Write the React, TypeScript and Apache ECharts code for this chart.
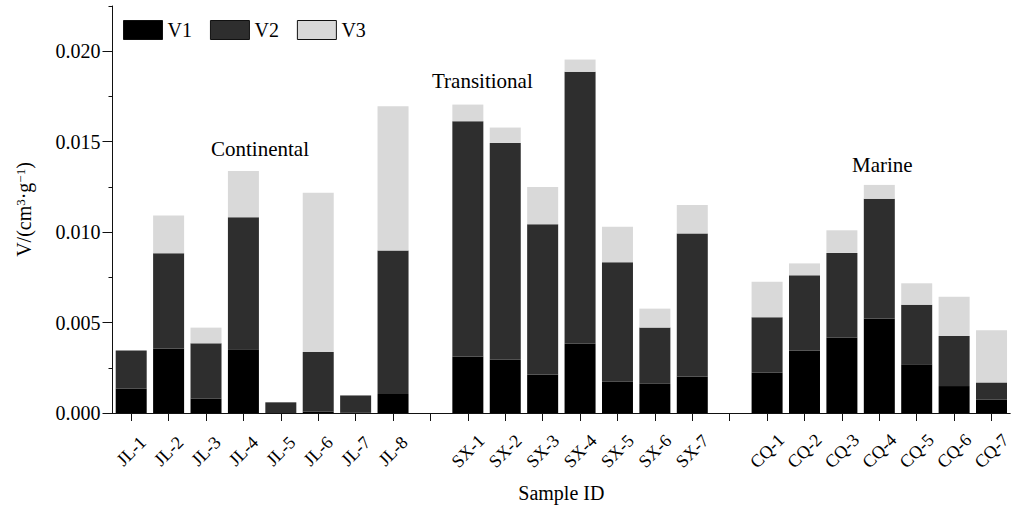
import React, { useEffect, useRef } from "react";
import * as echarts from "echarts";

// ---- data (units: cm^3/g) ----
const jlNames = ["JL-1", "JL-2", "JL-3", "JL-4", "JL-5", "JL-6", "JL-7", "JL-8"];
const jlV1 = [0.00134, 0.00357, 0.00079, 0.00352, 0.0, 0.00007, 0.00001, 0.00105];
const jlV2 = [0.00212, 0.00526, 0.00306, 0.0073, 0.00059, 0.0033, 0.00096, 0.00794];
const jlV3 = [0.0, 0.00209, 0.00087, 0.00256, 0.0, 0.0088, 0.0, 0.00797];

const sxNames = ["SX-1", "SX-2", "SX-3", "SX-4", "SX-5", "SX-6", "SX-7"];
const sxV1 = [0.00313, 0.00295, 0.00213, 0.00383, 0.00173, 0.00164, 0.00202];
const sxV2 = [0.013, 0.01198, 0.0083, 0.01503, 0.0066, 0.00308, 0.00791];
const sxV3 = [0.00092, 0.00085, 0.00207, 0.00068, 0.00197, 0.00105, 0.00157];

const cqNames = ["CQ-1", "CQ-2", "CQ-3", "CQ-4", "CQ-5", "CQ-6", "CQ-7"];
const cqV1 = [0.00223, 0.00345, 0.00416, 0.00522, 0.00269, 0.00149, 0.00075];
const cqV2 = [0.00306, 0.00416, 0.00469, 0.00662, 0.0033, 0.00277, 0.00094];
const cqV3 = [0.00197, 0.00066, 0.00125, 0.00077, 0.00118, 0.00217, 0.00288];

const seriesNames = ["V1", "V2", "V3"];
const seriesColors = ["#000000", "#2e2e2e", "#d9d9d9"];
const yTickLabels = [0, 0.005, 0.01, 0.015, 0.02];
const groupLabels = ["Continental", "Transitional", "Marine"];

const gapA = " ";
const gapB = "  ";
const categories = [...jlNames, gapA, ...sxNames, gapB, ...cqNames];
const join = (a: number[], b: number[], c: number[]) => [...a, null, ...b, null, ...c];
const seriesData = [
  join(jlV1, sxV1, cqV1),
  join(jlV2, sxV2, cqV2),
  join(jlV3, sxV3, cqV3),
];

const FONT = "'Liberation Serif', 'Times New Roman', serif";

export default function App() {
  const ref = useRef<HTMLDivElement>(null);
  useEffect(() => {
    if (!ref.current) return;
    const chart = echarts.init(ref.current, undefined, { renderer: "svg" });
    const option: any = {
      animation: false,
      backgroundColor: "#ffffff",
      textStyle: { fontFamily: FONT, color: "#000" },
      legend: {
        left: 118,
        top: 15,
        itemWidth: 39,
        itemHeight: 19,
        itemGap: 18,
        icon: "rect",
        itemStyle: { borderColor: "#111", borderWidth: 1 },
        textStyle: { fontFamily: FONT, fontSize: 20, color: "#000" },
        data: seriesNames,
      },
      grid: { left: 112.5, top: 6, width: 905, bottom: 96 },
      xAxis: {
        type: "category",
        data: categories,
        name: "Sample ID",
        nameLocation: "middle",
        nameGap: 70,
        nameTextStyle: { fontFamily: FONT, fontSize: 20, color: "#000" },
        axisLine: { lineStyle: { color: "#111", width: 1 } },
        axisTick: { show: true, alignWithLabel: true, length: 8, lineStyle: { color: "#111" } },
        axisLabel: {
          interval: 0,
          rotate: 45,
          align: "center",
          verticalAlign: "middle",
          margin: 38,
          fontFamily: FONT,
          fontSize: 18,
          color: "#000",
        },
      },
      yAxis: [
        {
          type: "value",
          min: 0,
          max: 0.0225,
          interval: 0.005,
          name: "V/(cm{sup|3}·g{sup|−1})",
          nameLocation: "middle",
          nameGap: 78,
          nameTextStyle: {
            fontFamily: FONT,
            fontSize: 20,
            color: "#000",
            rich: {
              sup: { fontFamily: FONT, fontSize: 13, verticalAlign: "top", color: "#000", padding: [0, 0, 8, 0] },
            },
          },
          axisLine: { show: true, lineStyle: { color: "#111", width: 1 } },
          axisTick: { show: true, length: 10, customValues: yTickLabels, lineStyle: { color: "#111" } },
          axisLabel: {
            customValues: yTickLabels,
            margin: 12,
            fontFamily: FONT,
            fontSize: 20,
            color: "#000",
            formatter: (v: number) => v.toFixed(3),
          },
          splitLine: { show: false },
        },
        {
          type: "value",
          min: 0,
          max: 0.0225,
          interval: 0.0025,
          position: "left",
          axisLine: { show: false },
          axisTick: { show: true, length: 4, lineStyle: { color: "#111" } },
          axisLabel: { show: false },
          splitLine: { show: false },
        },
      ],
      series: seriesNames.map((n, i) => ({
        name: n,
        type: "bar",
        stack: "total",
        yAxisIndex: 0,
        barWidth: 31,
        data: seriesData[i],
        itemStyle: { color: seriesColors[i] },
      })),
      graphic: [
        { type: "text", left: 211, top: 138, style: { text: groupLabels[0], font: `21px ${FONT}`, fill: "#000" } },
        { type: "text", left: 432, top: 70, style: { text: groupLabels[1], font: `21px ${FONT}`, fill: "#000" } },
        { type: "text", left: 852, top: 154, style: { text: groupLabels[2], font: `21px ${FONT}`, fill: "#000" } },
      ],
    };
    chart.setOption(option);
    return () => chart.dispose();
  }, []);
  return (
    <div
      ref={ref}
      style={{ position: "fixed", left: 0, top: 0, width: 1014, height: 509, background: "#fff" }}
    />
  );
}
